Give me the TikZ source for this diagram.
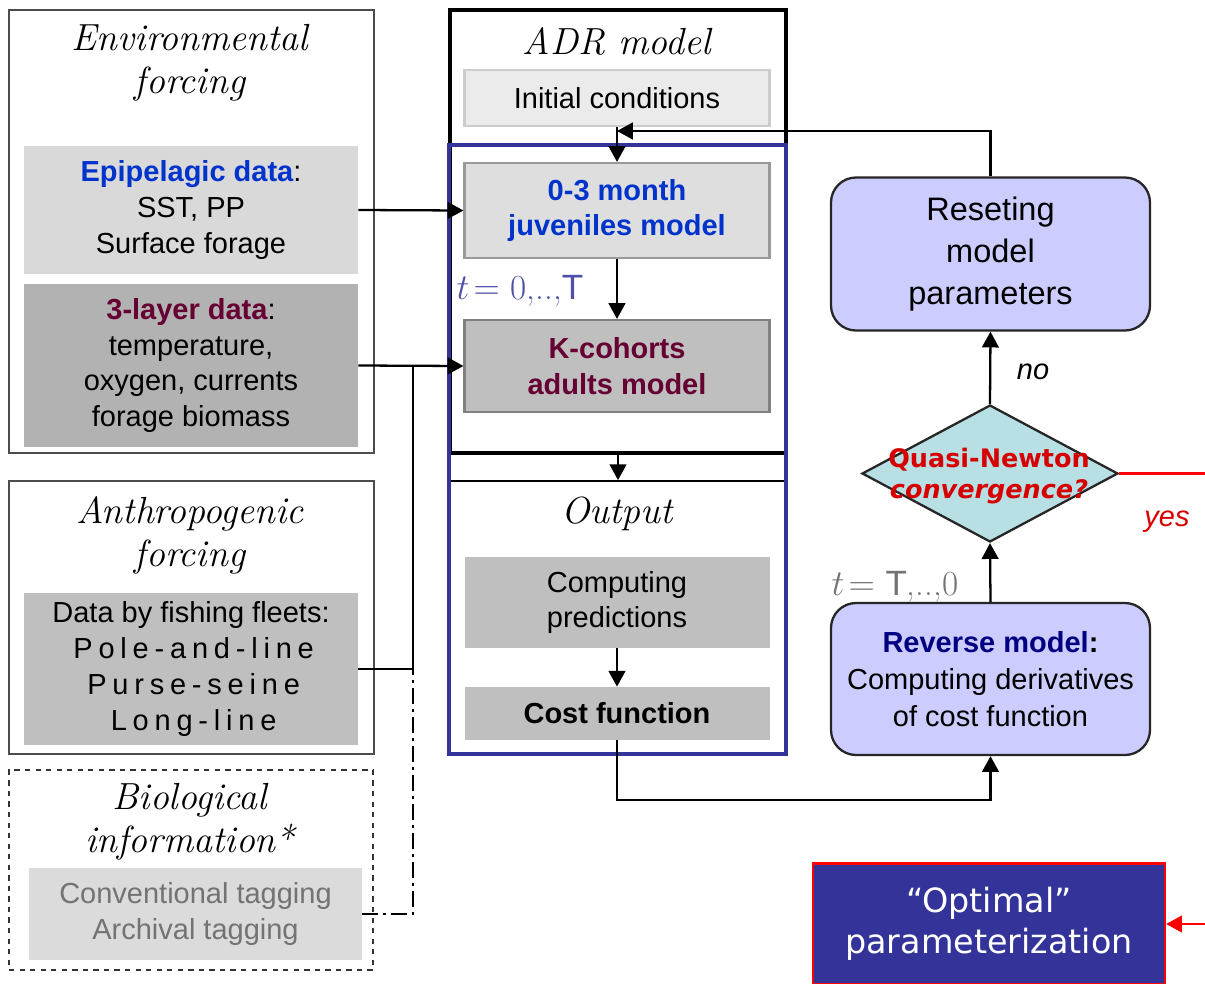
\documentclass[tikz,border=0pt]{standalone}
\usepackage{fontspec}
\setsansfont{Liberation Sans}
\newfontfamily\dejavu{DejaVu Sans}
\usetikzlibrary{arrows.meta}
\usetikzlibrary{shapes.geometric}

\definecolor{epiblue}{RGB}{0,51,204}
\definecolor{layred}{RGB}{102,0,51}
\definecolor{frameblue}{RGB}{51,51,153}
\definecolor{tblue}{RGB}{80,80,170}
\definecolor{revnavy}{RGB}{0,0,128}
\definecolor{lavender}{RGB}{204,204,255}
\definecolor{qnfill}{RGB}{184,223,227}
\definecolor{qnred}{RGB}{215,0,0}

\newcommand{\spaced}[1]{{\addfontfeature{LetterSpace=20}#1}\kern-3pt}

\tikzset{
  outerbox/.style={draw=black!70, line width=1pt, inner sep=0pt},
  headtext/.style={font=\fontsize{21.5}{24.4}\selectfont\itshape, align=center},
  databox/.style={inner sep=0pt, align=center, font=\sffamily\fontsize{16.5}{20.4}\selectfont},
  modelbox/.style={databox, line width=1.2pt, minimum width=61mm},
  boldtext/.style={font=\sffamily\bfseries\fontsize{16.5}{20.4}\selectfont},
  flow/.style={line width=1.3pt, -{Triangle[length=9pt,width=9.5pt]}},
  loopbox/.style={rounded corners=5mm, draw=black!85, line width=1.3pt, fill=lavender,
    inner sep=0pt, align=center, minimum width=63.8mm},
}

\begin{document}
\begin{tikzpicture}[x=0.2mm, y=-0.2mm]
	\useasboundingbox (0,0) rectangle (1205,984);
	
	% forcing on the left
	\node[outerbox, minimum width=73mm, minimum height=88.6mm] (envbox) at (191.5,231.5) {};
	\node[headtext] (envtitle) at (190,63) {Environmental\\forcing};
	\node[databox, fill=black!15, minimum width=66.8mm, minimum height=25.6mm] (epi) at (191,210)
		{\textbf{\color{epiblue}Epipelagic data}:\\SST, PP\\Surface forage};
	\node[databox, fill=black!30, minimum width=66.8mm, minimum height=32.6mm] (lay) at (191,365.5)
		{\textbf{\color{layred}3-layer data}:\\temperature,\\oxygen, currents\\forage biomass};
	
	\node[outerbox, minimum width=73mm, minimum height=54.6mm] (antbox) at (191.5,617.5) {};
	\node[headtext] (anttitle) at (190,535) {Anthropogenic\\forcing};
	\node[databox, fill=black!25, minimum width=66.8mm, minimum height=30.4mm] (fleet) at (191,669)
		{Data by fishing fleets:\\\spaced{Pole-and-line}\\\spaced{Purse-seine}\\\spaced{Long-line}};
	
	\node[outerbox, draw=black!80, dashed, line width=0.7pt, minimum width=72.8mm, minimum height=40mm] (biobox) at (191,870) {};
	\node[headtext] (biotitle) at (190,822) {Biological\\information*};
	\node[databox, fill=black!14, text=black!55, minimum width=66.6mm, minimum height=18.4mm] (tag) at (195.5,914)
		{Conventional tagging\\Archival tagging};
	
	% ADR model
	\node[draw=black, line width=1.8pt, inner sep=0pt, minimum width=67.2mm, minimum height=88.6mm] (adr) at (618,231.5) {};
	\node[headtext] (adrtitle) at (617,41) {ADR model};
	\node[modelbox, draw=black!20, fill=black!8, minimum height=11.2mm] (init) at (617,98) {Initial conditions};
	\node[draw=black, line width=1pt, inner sep=0pt, minimum width=67.2mm, minimum height=54.6mm] (out) at (618,617.5) {};
	\node[draw=frameblue, line width=2.4pt, inner sep=0pt, minimum width=67.4mm, minimum height=121.8mm] (loop) at (617.5,449.5) {};
	
	\node[modelbox, boldtext, draw=black!40, fill=black!13, text=epiblue, minimum height=19mm] (juv) at (617,210.5)
		{0-3 month\\juveniles model};
	\node[modelbox, boldtext, draw=black!50, fill=black!25, text=layred, minimum height=18.4mm] (coh) at (617,366)
		{K-cohorts\\adults model};
	\node[text=tblue, font=\fontsize{20}{24}\selectfont] (tfwd) at (520,291) {$t\!=$ 0,..,\textsf{T}};
	
	\node[headtext] (outtitle) at (617,514) {Output};
	\node[databox, fill=black!25, minimum width=61mm, minimum height=18.2mm] (pred) at (617,602.5) {Computing\\predictions};
	\node[databox, boldtext, fill=black!25, minimum width=61mm, minimum height=10.6mm] (cost) at (617,713.5) {Cost function};
	
	% optimisation loop
	\node[loopbox, font=\sffamily\fontsize{18.5}{24}\selectfont, minimum height=30.6mm] (reset) at (990.5,254)
		{Reseting\\model\\parameters};
	\node[diamond, draw=black!85, line width=1.3pt, fill=qnfill, inner sep=0pt, minimum width=51.2mm, minimum height=27.4mm] (qn) at (990,473.5) {};
	\node[align=center, text=qnred, font=\dejavu\bfseries\fontsize{14.5}{17.6}\selectfont] (qntext) at (989,476)
		{Quasi-Newton\\\itshape convergence?};
	\node[loopbox, font=\sffamily\fontsize{16.5}{21}\selectfont, minimum height=30.4mm] (rev) at (990.5,679)
		{\textbf{\color{revnavy}Reverse model}\textbf{:}\\Computing derivatives\\of cost function};
	\node[text=black!55, font=\fontsize{20}{24}\selectfont] (tbwd) at (895,587) {$t\!=$ \textsf{T},..,0};
	\node[font=\sffamily\itshape\fontsize{16.5}{20}\selectfont] (nolab) at (1033,372) {no};
	\node[text=qnred, font=\sffamily\itshape\fontsize{16.5}{20}\selectfont] (yeslab) at (1167,522) {yes};
	\node[draw=red, line width=1.3pt, fill=frameblue, text=white, inner sep=0pt, align=center,
		font=\dejavu\fontsize{19}{23.5}\selectfont, minimum width=70.4mm, minimum height=24.2mm] (opt) at (989,924)
		{“Optimal”\\parameterization};
	
	\coordinate (join) at (413,365.5);
	\coordinate (ret) at (617,131);
	\coordinate (low) at (617,800);
	\coordinate (yesend) at (1205,473.5);
	\coordinate (optin) at (1205,924);
	
	% connectors
	\draw[flow] (epi.east) -- (juv.west);
	\draw[flow] (lay.east) -- (coh.west);
	\draw[line width=1.3pt] (fleet.east) -| (join);
	\draw[line width=1.3pt, dash pattern=on 9pt off 3pt on 1.5pt off 3pt] (tag.east) -| (join);
	\draw[flow] (reset.north) |- (ret);
	\draw[flow] (init.south) -- (juv.north);
	\draw[flow] (juv.south) -- (coh.north);
	\draw[flow] (adr.south) -- (out.north);
	\draw[flow] (pred.south) -- (cost.north);
	\draw[flow] (cost.south) -- (low) -| (rev.south);
	\draw[flow] (rev.north) -- (qn.south);
	\draw[flow] (qn.north) -- (reset.south);
	\draw[red, line width=1.3pt] (qn.east) -- (yesend);
	\draw[red, line width=1.3pt, -{Triangle[length=9pt,width=9.5pt]}] (optin) -- (opt.east);
\end{tikzpicture}
\end{document}
